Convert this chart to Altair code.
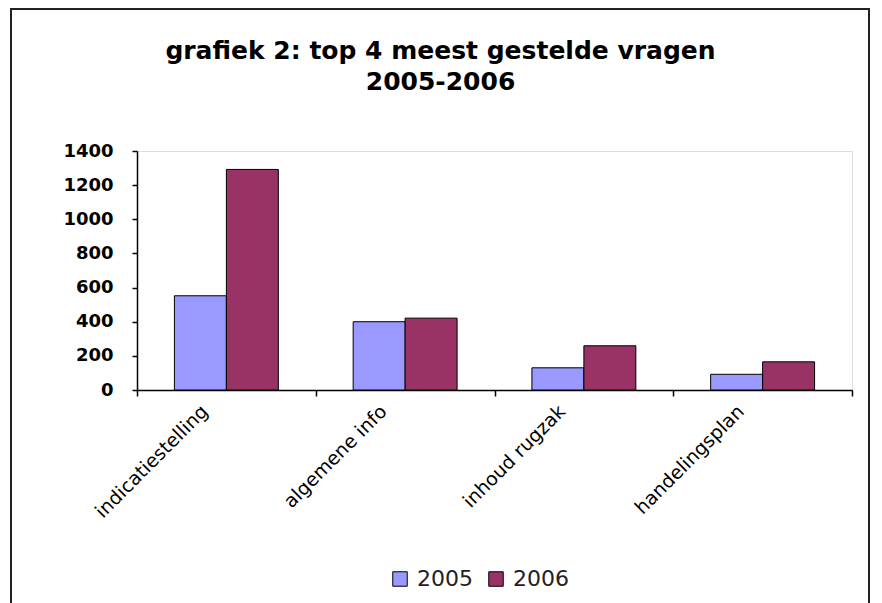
import altair as alt
import pandas as pd

categories = ["indicatiestelling", "algemene info", "inhoud rugzak", "handelingsplan"]
years = ["2005", "2006"]
values_2005 = [552, 400, 130, 92]
values_2006 = [1292, 421, 259, 165]

rows = []
for c, v5, v6 in zip(categories, values_2005, values_2006):
    rows.append({"cat": c, "year": "2005", "value": v5})
    rows.append({"cat": c, "year": "2006", "value": v6})
df = pd.DataFrame(rows)

bars = alt.Chart(df).mark_bar(stroke="black", strokeWidth=1).encode(
    x=alt.X("cat:N", sort=categories, title=None,
            scale=alt.Scale(paddingInner=0, paddingOuter=0),
            axis=alt.Axis(labelAngle=-45, labelAlign="right", labelBaseline="middle",
                          labelFont="DejaVu Sans", labelFontSize=19, labelColor="black",
                          labelPadding=12, labelOffset=-22, tickBand="extent", tickSize=6,
                          tickColor="black", domainColor="black", domainWidth=1.5,
                          tickWidth=1.5)),
    xOffset=alt.XOffset("year:N", sort=years,
                        scale=alt.Scale(paddingInner=0, paddingOuter=0.72)),
    y=alt.Y("value:Q", title=None,
            scale=alt.Scale(domain=[0, 1400], nice=False),
            axis=alt.Axis(values=[0, 200, 400, 600, 800, 1000, 1200, 1400], format="d",
                          labelFont="DejaVu Sans", labelFontWeight="bold", labelFontSize=18,
                          labelColor="black", labelPadding=19, tickSize=5, tickColor="black",
                          domainColor="black", domainWidth=1.5, tickWidth=1.5, grid=False)),
    color=alt.Color("year:N", sort=years,
                    scale=alt.Scale(domain=years, range=["#9999FF", "#993366"]),
                    legend=alt.Legend(title=None, orient="none", direction="horizontal",
                                      legendX=252, legendY=417, symbolType="square",
                                      symbolSize=210, symbolStrokeColor="black",
                                      symbolStrokeWidth=1, labelFont="DejaVu Sans",
                                      labelFontSize=22, labelColor="#222222",
                                      columnPadding=12, labelOffset=6)),
)

frame = alt.Chart(alt.Data(values=[{}])).mark_rect(
    filled=False, stroke="#222222", strokeWidth=2
).encode(
    x=alt.value(-126), x2=alt.value(732), y=alt.value(-142), y2=alt.value(480)
)

chart = alt.layer(bars, frame).properties(
    width=715,
    height=239,
    autosize=alt.AutoSizeParams(type="none"),
    padding={"left": 129, "top": 143, "right": 20, "bottom": 220},
    title=alt.TitleParams(
        text=["grafiek 2: top 4 meest gestelde vragen", "2005-2006"],
        font="DejaVu Sans", fontSize=25, fontWeight="bold", color="black",
        anchor="middle", dx=-54, offset=-87, lineHeight=31,
    ),
).configure_view(stroke="#b0b0b0", strokeWidth=1).configure(background="white")

chart.save("out.html", embed_options={"renderer": "svg", "actions": False})
